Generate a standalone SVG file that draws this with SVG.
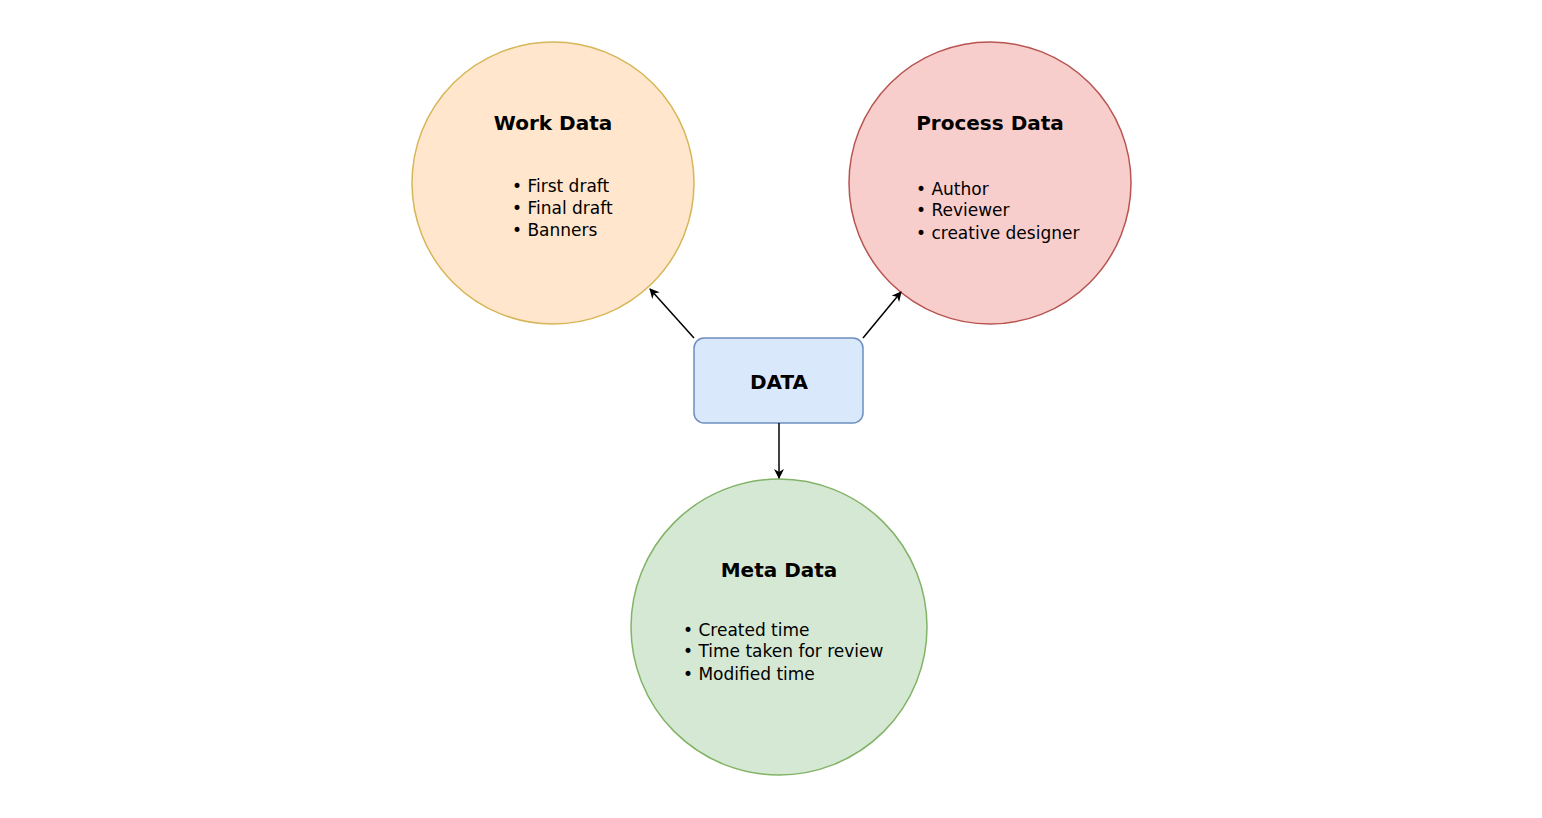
<svg xmlns="http://www.w3.org/2000/svg" width="1542" height="818" viewBox="0 0 1542 818">
<style>
text{font-family:"DejaVu Sans","Liberation Sans",sans-serif;fill:#000}
.t{font-size:20px;font-weight:bold;text-anchor:middle}
.b{font-size:17px}
.c{stroke:#000;stroke-width:1.5;fill:none}
</style>
<defs><marker id="a" markerWidth="10" markerHeight="10" refX="9" refY="5" orient="auto" markerUnits="userSpaceOnUse"><path d="M0,0 L10,5 L0,10 L3,5 Z" fill="#000"/></marker></defs>
<rect width="1542" height="818" fill="#fff"/>
<g id="work"><circle cx="553" cy="183" r="141" fill="#ffe6cc" stroke="#d6b656" stroke-width="1.5"/>
<text class="t" x="553" y="130">Work Data</text>
<text class="b" x="512" y="192">•  First draft</text><text class="b" x="512" y="214">•  Final draft</text><text class="b" x="512" y="236">•  Banners</text></g>
<g id="process"><circle cx="990" cy="183" r="141" fill="#f8cecc" stroke="#b85450" stroke-width="1.5"/>
<text class="t" x="990" y="130">Process Data</text>
<text class="b" x="916" y="195">•  Author</text><text class="b" x="916" y="216">•  Reviewer</text><text class="b" x="916" y="239">•  creative designer</text></g>
<g id="meta"><circle cx="779" cy="627" r="148" fill="#d5e8d4" stroke="#82b366" stroke-width="1.5"/>
<text class="t" x="779" y="577">Meta Data</text>
<text class="b" x="683" y="636">•  Created time</text><text class="b" x="683" y="657">•  Time taken for review</text><text class="b" x="683" y="680">•  Modified time</text></g>
<g id="data"><rect x="694" y="338" width="169" height="85" rx="10" fill="#dae8fc" stroke="#6c8ebf" stroke-width="1.5"/>
<text class="t" x="779" y="389">DATA</text></g>
<g id="connectors">
<line class="c" x1="694" y1="338" x2="650" y2="289" marker-end="url(#a)"/>
<line class="c" x1="863" y1="338" x2="901" y2="292" marker-end="url(#a)"/>
<line class="c" x1="779" y1="423" x2="779" y2="478" marker-end="url(#a)"/>
</g>
</svg>
